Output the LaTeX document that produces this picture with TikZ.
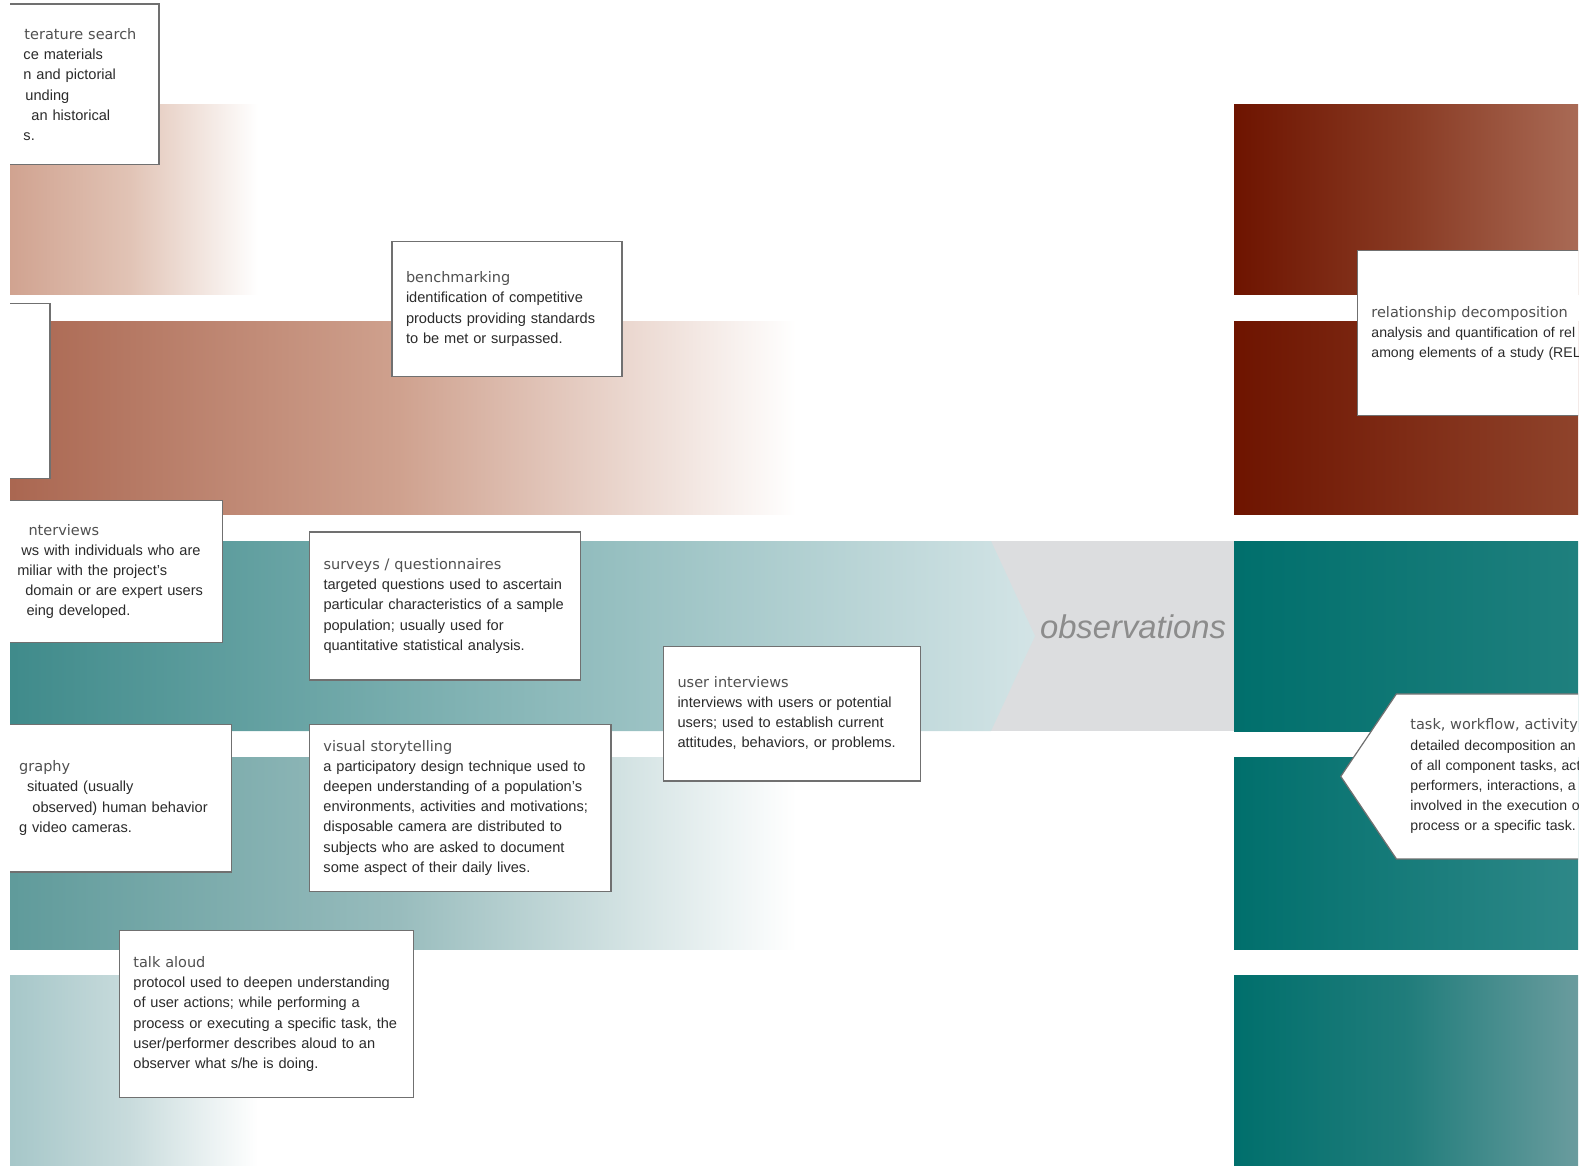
\documentclass[tikz,border=0pt]{standalone}
\usepackage{fontspec}
\setmainfont{Liberation Sans}
\newfontfamily\headfont{DejaVu Sans}
\usetikzlibrary{shapes.symbols}
\definecolor{rustpale}{HTML}{CFA08D}
\definecolor{rustmist}{HTML}{E1C3B5}
\definecolor{rustmid}{HTML}{A9654F}
\definecolor{rustsoft}{HTML}{CFA18E}
\definecolor{tealmid}{HTML}{3E8A8A}
\definecolor{tealmist}{HTML}{D3E4E6}
\definecolor{tealsoft}{HTML}{5E9A9A}
\definecolor{tealhaze}{HTML}{98BCBD}
\definecolor{tealpale}{HTML}{A3C5C7}
\definecolor{tealveil}{HTML}{C8DBDC}
\definecolor{mistgrey}{HTML}{DCDDDF}
\definecolor{rustdark}{HTML}{6E1400}
\definecolor{rustwarm}{HTML}{A96A55}
\definecolor{rustdeep}{HTML}{8F432B}
\definecolor{tealdark}{HTML}{006F6C}
\definecolor{tealdeep}{HTML}{1F807E}
\definecolor{tealfade}{HTML}{2E8888}
\definecolor{tealwash}{HTML}{6A9C9E}
\definecolor{cardline}{HTML}{707070}
\definecolor{titletext}{HTML}{505050}
\definecolor{bodytext}{HTML}{2B2B2B}
\definecolor{obsgrey}{HTML}{8C8C8C}
\newcommand{\ttl}[1]{{\headfont\fontsize{7.25}{10.1}\selectfont\color{titletext}#1}}
\tikzset{
  card/.style 2 args={
    draw=cardline, fill=white, line width=0.6pt, align=left,
    text width=#1, minimum height=#2, inner xsep=7pt, inner ysep=0pt,
    font=\fontsize{7.3}{10.1}\selectfont, text=bodytext
  },
  edgecard/.style 2 args={card={#1}{#2}, font=\fontsize{7.05}{10.1}\selectfont},
  band/.style n args={3}{left color=#1, right color=#3, middle color=#2},
  obslabel/.style={font=\fontsize{16.4}{18}\selectfont\itshape, text=obsgrey}
}

\begin{document}
\begin{tikzpicture}[x=0.5pt, y=-0.5pt]
  \useasboundingbox (0,0) rectangle (1586,1166);
  \clip (10,0) rectangle (1578,1166);
  % left bands
  \shade[band={rustpale}{rustmist}{white}] (0,105) rectangle (258,295);
  \shade[band={rustmid}{rustsoft}{white}] (0,322) rectangle (796,514);
  \fill[mistgrey] (991,541) rectangle (1234,731);
  \shade[left color=tealmid, right color=tealmist] (0,541) -- (991,541) -- (1035,636) -- (991,731) -- (0,731) -- cycle;
  \shade[band={tealsoft}{tealhaze}{white}] (0,757) rectangle (796,949);
  \shade[band={tealpale}{tealveil}{white}] (0,975) rectangle (258,1166);
  % right column
  \shade[band={rustdark}{rustdeep!80!rustdark}{rustwarm}] (1234,105) rectangle (1578,295);
  \shade[left color=rustdark, right color=rustdeep] (1234,322) rectangle (1578,514);
  \shade[left color=tealdark, right color=tealdeep] (1234,541) rectangle (1578,731);
  \shade[left color=tealdark, right color=tealfade] (1234,757) rectangle (1578,949);
  \shade[band={tealdark}{tealdark!70!tealwash}{tealwash}] (1234,975) rectangle (1578,1166);

  \node[obslabel] (obs) at (1133,627) {observations};

  % cards
  \node[card={60.7pt}{80.4pt}] (lit) at (84.2,84.5)
    {\ttl{\hspace*{0.5pt}terature search}\\ce materials\\n and pictorial\\\hspace*{1pt}unding\\\hspace*{4pt}an historical\\s.};
  \node[card={21pt}{87.5pt}] (blank) at (15,391) {};
  \node[card={101pt}{67.3pt}] (bench) at (507,309)
    {\ttl{benchmarking}\\identification of competitive\\products providing standards\\to be met or surpassed.};
  \node[card={95.6pt}{70.8pt}] (intv) at (112.9,571.5)
    {\ttl{\hspace*{5.6pt}nterviews}\\\hspace*{2pt}ws with individuals who are\\miliar with the project’s\\\hspace*{4pt}domain or are expert users\\\hspace*{4.6pt}eing developed.};
  \node[card={121.5pt}{74pt}] (surv) at (445,606)
    {\ttl{surveys / questionnaires}\\targeted questions used to ascertain\\particular characteristics of a sample\\population; usually used for\\quantitative statistical analysis.};
  \node[card={114.5pt}{67.3pt}] (user) at (792,713.6)
    {\ttl{user interviews}\\interviews with users or potential\\users; used to establish current\\attitudes, behaviors, or problems.};
  \node[card={99.2pt}{73.9pt}] (ethno) at (118.4,798)
    {\ttl{graphy}\\\hspace*{4pt}situated (usually\\\hspace*{6.6pt}observed) human behavior\\g video cameras.};
  \node[card={136.75pt}{83.5pt}] (story) at (460.2,807.7)
    {\ttl{visual storytelling}\\a participatory design technique used to\\deepen understanding of a population’s\\environments, activities and motivations;\\disposable camera are distributed to\\subjects who are asked to document\\some aspect of their daily lives.};
  \node[card={133.1pt}{83.5pt}] (talk) at (266.5,1014)
    {\ttl{talk aloud}\\protocol used to deepen understanding\\of user actions; while performing a\\process or executing a specific task, the\\user/performer describes aloud to an\\observer what s/he is doing.};
  \node[edgecard={132.3pt}{82.4pt}] (rel) at (1503.7,333.3)
    {\ttl{relationship decomposition}\\analysis and quantification of rel\\among elements of a study (REL};
  \node[edgecard={112.5pt}{82.5pt}, signal, signal to=west, signal pointer angle=112, anchor=east] (task) at (1650,776.4)
    {\ttl{task, workflow, activity}\\detailed decomposition an\\of all component tasks, act\\performers, interactions, a\\involved in the execution o\\process or a specific task.};
\end{tikzpicture}
\end{document}
